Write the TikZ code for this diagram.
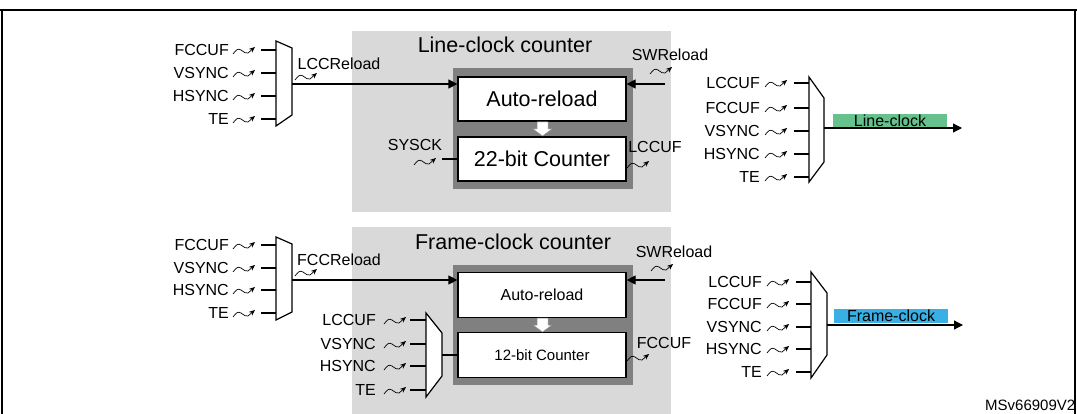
\documentclass[tikz,border=0pt]{standalone}
\usepackage{fontspec}
\setmainfont{Liberation Sans}
\usetikzlibrary{arrows.meta,positioning}
\definecolor{lcgreen}{RGB}{102,193,140}
\definecolor{fcblue}{RGB}{57,176,229}
\tikzset{
  sig/.style={font=\fontsize{16}{16}\selectfont,inner sep=0pt},
  ttl/.style={font=\fontsize{21.5}{21.5}\selectfont,inner sep=0pt},
  wave/.pic={\draw[line width=0.7pt,-{Stealth[length=6pt,width=5pt]}]
     (0,1) .. controls (3,-3) and (5,-5) .. (8,-3) .. controls (11,-1) and (13,1) .. (15,0) -- (22,-6);},
  mux/.style={draw,line width=1.2pt,fill=white},
  blk/.style={draw,line width=1.2pt,fill=white,minimum width=168pt,inner sep=0pt},
  wire/.style={line width=1.2pt},
  arr/.style={wire,-{Triangle[length=9pt,width=9pt]}},
  tag/.style={minimum width=114pt,minimum height=14pt,inner sep=0pt,font=\fontsize{16}{16}\selectfont},
  hollow/.style={fill=white,draw=black!45,line width=0.5pt},
}
\begin{document}
\begin{tikzpicture}[x=1pt,y=-1pt]
\useasboundingbox (0,0) rectangle (1077,414);
% frame
\draw[line width=1.5pt] (0,10) -- (1077,10);
\draw[line width=1.5pt] (2,10) -- (2,414) (1075,10) -- (1075,414);

% ---- line-clock counter
\fill[black!15] (352,31) rectangle (671,212);
\node[ttl] (lct) at (505,45) {Line-clock counter};
\fill[black!50] (453,68) rectangle (633,189);
\node[blk,minimum height=44pt,font=\fontsize{21.5}{21.5}\selectfont] (ar1) at (542,99) {Auto-reload};
\node[blk,minimum height=44pt,font=\fontsize{21.5}{21.5}\selectfont] (cnt1) at (542,159) {22-bit Counter};
\draw[hollow] (537,122) -- (548,122) -- (548,129) -- (552,129) -- (542.5,136) -- (533,129) -- (537,129) -- cycle;

\draw[mux] (276,41) -- (292,48) -- (292,115) -- (276,126) -- cycle;
\foreach \t/\y in {FCCUF/50,VSYNC/73,HSYNC/96,TE/119}{
  \node[sig,anchor=east] (l1-\y) at (229,\y) {\t};
  \pic at (233,\y+3) {wave};
  \draw[wire] (261,\y) -- (276,\y);
}
\coordinate (m1) at (292,84);
\node[sig] (lccr) at (339,64) {LCCReload};
\pic at (295,79) {wave};
\draw[arr] (m1) -- (m1 -| ar1.west);

\node[sig] (swr1) at (670,55) {SWReload};
\pic at (650,73) {wave};
\coordinate (sw1) at (665,84);
\draw[arr] (sw1) -- (sw1 -| ar1.east);

\node[sig] (sys) at (415,145) {SYSCK};
\pic at (414,164) {wave};
\coordinate (sys1) at (442,159);
\draw[wire] (sys1) -- (cnt1.west);
\node[sig] (lccuf) at (655,147) {LCCUF};
\pic at (627,167) {wave};

\draw[mux] (809,77) -- (824,98) -- (824,162) -- (809,182) -- cycle;
\foreach \t/\y in {LCCUF/83,FCCUF/108,VSYNC/131,HSYNC/154,TE/177}{
  \node[sig,anchor=east] (r1-\y) at (760,\y) {\t};
  \pic at (765,\y+3) {wave};
  \draw[wire] (794,\y) -- (809,\y);
}
\node[tag,fill=lcgreen] (lc) at (890,121) {Line-clock};
\coordinate (o1) at (824,128);
\coordinate (e1) at (962,128);
\draw[arr] (o1) -- (e1);

% ---- frame-clock counter
\fill[black!15] (352,227) rectangle (671,414);
\node[ttl] (fct) at (513,242) {Frame-clock counter};
\fill[black!50] (453,265) rectangle (633,385);
\node[blk,minimum height=45pt,font=\fontsize{16}{16}\selectfont] (ar2) at (542,295) {Auto-reload};
\node[blk,minimum height=45pt,font=\fontsize{15}{15}\selectfont] (cnt2) at (542,355) {12-bit Counter};
\draw[hollow] (537,318) -- (548,318) -- (548,325) -- (552,325) -- (542.5,332) -- (533,325) -- (537,325) -- cycle;

\draw[mux] (276,237) -- (292,244) -- (292,312) -- (276,320) -- cycle;
\foreach \t/\y in {FCCUF/245,VSYNC/268,HSYNC/290,TE/313}{
  \node[sig,anchor=east] (l2-\y) at (229,\y) {\t};
  \pic at (233,\y+3) {wave};
  \draw[wire] (261,\y) -- (276,\y);
}
\coordinate (m2) at (292,280);
\node[sig] (fccr) at (339,260) {FCCReload};
\pic at (295,275) {wave};
\draw[arr] (m2) -- (m2 -| ar2.west);

\node[sig] (swr2) at (674,252) {SWReload};
\pic at (651,270) {wave};
\coordinate (sw2) at (665,280);
\draw[arr] (sw2) -- (sw2 -| ar2.east);

\draw[mux] (426,313) -- (442,333) -- (442,376) -- (426,397) -- cycle;
\foreach \t/\y in {LCCUF/320,VSYNC/344,HSYNC/366,TE/390}{
  \node[sig,anchor=east] (c2-\y) at (376,\y) {\t};
  \pic at (384,\y+3) {wave};
  \draw[wire] (410,\y) -- (426,\y);
}
\coordinate (m3) at (442,355);
\draw[wire] (m3) -- (cnt2.west);
\node[sig] (fccuf) at (664,343) {FCCUF};
\pic at (627,360) {wave};

\draw[mux] (811,272) -- (827,293) -- (827,355) -- (811,378) -- cycle;
\foreach \t/\y in {LCCUF/282,FCCUF/304,VSYNC/327,HSYNC/349,TE/372}{
  \node[sig,anchor=east] (r2-\y) at (762,\y) {\t};
  \pic at (767,\y+3) {wave};
  \draw[wire] (796,\y) -- (811,\y);
}
\node[tag,fill=fcblue] (fc) at (891,316) {Frame-clock};
\coordinate (o2) at (827,325);
\coordinate (e2) at (963,325);
\draw[arr] (o2) -- (e2);

\node[font=\fontsize{15}{15}\selectfont,inner sep=0pt,anchor=west] (ref) at (985,405) {MSv66909V2};
\end{tikzpicture}
\end{document}
